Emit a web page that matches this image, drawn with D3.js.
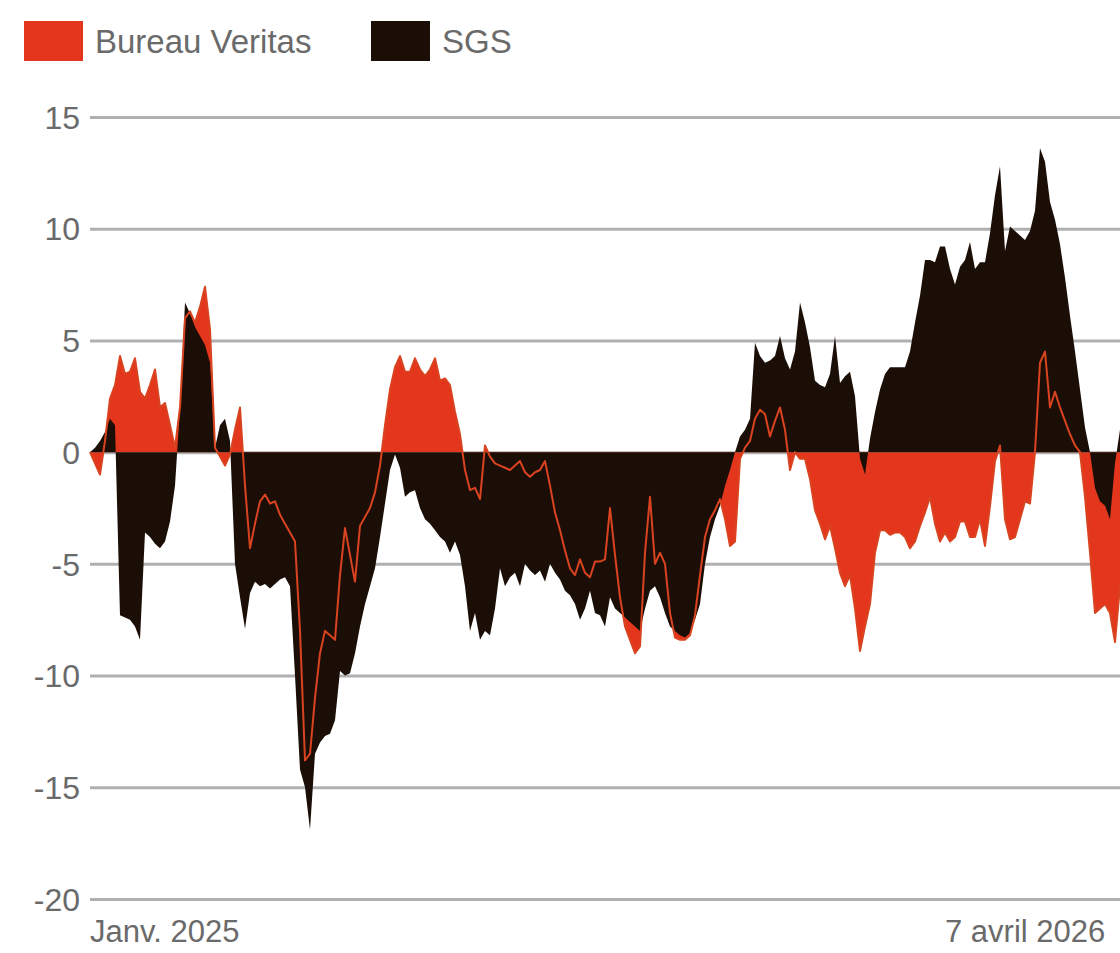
<!DOCTYPE html>
<html>
<head>
<meta charset="utf-8">
<script src="https://cdn.jsdelivr.net/npm/d3@7"></script>
<style>
  html, body { margin: 0; padding: 0; background: #fff; overflow: hidden; }
  svg { display: block; }
</style>
</head>
<body>
<svg id="chart" width="1120" height="953"></svg>
<script>
const seriesNames = ["Bureau Veritas", "SGS"];
const seriesColors = ["#e3361c", "#1b0e07"];
const yTicks = [15, 10, 5, 0, -5, -10, -15, -20];
const xTickLabels = ["Janv. 2025", "7 avril 2026"];

const sgsValues = [
  0, 0.2, 0.5, 0.9, 1.5, 1.2, -7.3, -7.4, -7.5, -7.8,
  -8.4, -3.6, -3.8, -4.1, -4.3, -4.0, -3.1, -1.5, 2.0, 6.7,
  6.2, 5.6, 5.2, 4.8, 4.0, 0.2, 1.2, 1.5, 0.5, -5.0,
  -6.5, -7.9, -6.3, -5.8, -6.0, -5.9, -6.1, -5.9, -5.7, -5.6,
  -6.0, -10.0, -14.2, -15.0, -16.9, -13.5, -13.0, -12.7, -12.6, -12.0,
  -9.8, -10.0, -9.9, -9.0, -7.8, -6.8, -6.0, -5.2, -3.8, -2.3,
  -0.8, -0.1, -0.7, -2.0, -1.8, -1.7, -2.5, -3.0, -3.2, -3.5,
  -3.8, -4.0, -4.5, -4.0, -4.6, -6.0, -8.0, -7.2, -8.4, -8.0,
  -8.2, -7.0, -5.2, -6.0, -5.6, -5.4, -6.0, -5.0, -5.3, -5.5,
  -5.3, -5.8, -5.0, -5.4, -5.7, -6.2, -6.4, -6.8, -7.5, -7.0,
  -6.2, -7.2, -7.3, -7.8, -6.5, -7.0, -7.2, -7.4, -7.6, -7.8,
  -8.0, -7.0, -6.2, -6.0, -6.5, -7.2, -7.8, -8.0, -8.2, -8.3,
  -8.1, -7.5, -6.8, -5.0, -3.8, -3.0, -2.4, -1.5, -0.8, 0,
  0.7, 1.0, 1.5, 4.9, 4.3, 4.0, 4.1, 4.3, 5.2, 4.2,
  3.7, 4.5, 6.7, 5.8, 4.7, 3.2, 3.0, 2.9, 3.5, 5.2,
  3.1, 3.4, 3.6, 2.5, -0.3, -1.0, 0.6, 1.8, 2.8, 3.5,
  3.8, 3.8, 3.8, 3.8, 4.5, 5.8, 7.0, 8.6, 8.6, 8.5,
  9.2, 9.2, 8.2, 7.5, 8.3, 8.6, 9.4, 8.2, 8.5, 8.5,
  9.8, 11.5, 12.8, 9.0, 10.1, 9.9, 9.7, 9.5, 9.9, 10.8,
  13.6, 13.0, 11.2, 10.4, 9.3, 7.8, 6.1, 4.5, 2.8, 1.1,
  0, -1.6, -2.2, -2.4, -3.0, -0.5, 1.0, 0.5, -0.5, -1.0
];

const bvValues = [
  0, -0.5, -1.0, 0.5, 2.4, 3.0, 4.3, 3.5, 3.6, 4.2,
  2.7, 2.4, 3.0, 3.7, 2.0, 2.2, 1.2, 0.2, 2.0, 6.0,
  6.3, 5.8, 6.5, 7.4, 5.5, 0.2, -0.2, -0.6, -0.1, 1.0,
  2.0, -1.5, -4.3, -3.2, -2.2, -1.9, -2.3, -2.2, -2.8, -3.2,
  -3.6, -4.0, -8.0, -13.8, -13.5, -11.0, -9.0, -8.0, -8.2, -8.4,
  -5.5, -3.4, -4.6, -5.8, -3.3, -2.9, -2.5, -1.8, -0.6, 1.2,
  2.8, 3.8, 4.3, 3.6, 3.6, 4.2, 3.7, 3.4, 3.7, 4.2,
  3.2, 3.3, 3.0, 1.8, 0.8, -0.8, -1.7, -1.6, -2.1, 0.3,
  -0.2, -0.5, -0.6, -0.7, -0.8, -0.6, -0.4, -0.9, -1.1, -0.9,
  -0.8, -0.4, -1.5, -2.7, -3.5, -4.4, -5.2, -5.5, -4.8, -5.4,
  -5.6, -4.9, -4.9, -4.8, -2.5, -4.6, -6.5, -7.8, -8.4, -9.0,
  -8.7, -4.5, -2.0, -5.0, -4.5, -5.0, -7.2, -8.3, -8.4, -8.4,
  -8.2, -7.3, -5.5, -3.8, -3.0, -2.6, -2.1, -3.0, -4.2, -4.0,
  -0.3, 0.2, 0.5, 1.5, 1.9, 1.7, 0.7, 1.4, 2.0, 1.0,
  -0.8, 0.0, -0.3, -0.3, -1.2, -2.6, -3.2, -3.9, -3.3, -4.3,
  -5.4, -6.0, -5.5, -7.0, -8.9, -7.8, -6.8, -4.5, -3.5, -3.5,
  -3.7, -3.6, -3.6, -3.8, -4.3, -4.0, -3.3, -2.7, -2.0, -3.2,
  -4.0, -3.6, -4.0, -3.8, -3.1, -3.1, -3.8, -3.8, -3.0, -4.2,
  -2.4, -0.4, 0.3, -3.0, -3.9, -3.8, -3.0, -2.2, -2.3, 0.0,
  4.0, 4.5, 2.0, 2.7, 2.0, 1.4, 0.8, 0.3, 0.0, -2.0,
  -4.5, -7.2, -7.0, -6.8, -7.2, -8.5, -6.0, -6.2, -6.4, -6.2
];

const svg = d3.select("#chart");
const W = 1120, H = 953;
const plotLeft = 90, plotRight = 1135;
const fontFamily = "'Liberation Sans', Arial, sans-serif";
const textColor = "#6a6a6a";

const x = d3.scaleLinear().domain([0, sgsValues.length - 1]).range([plotLeft, plotRight]);
const y = d3.scaleLinear().domain([-20, 15]).range([899, 117]);

// gridlines + y labels
const yAxis = d3.axisLeft(y).tickValues(yTicks).tickSize(0).tickPadding(0).tickFormat(d => String(d));
const gy = svg.append("g").attr("transform", `translate(${plotLeft},0)`).call(yAxis);
gy.select(".domain").remove();
gy.selectAll(".tick line").remove();
gy.selectAll(".tick").append("line")
  .attr("x1", 0).attr("x2", W + 100)
  .attr("stroke", "#b0b0b0").attr("stroke-width", 3);
gy.selectAll(".tick text")
  .attr("x", -10).attr("dy", "0.35em")
  .attr("font-family", fontFamily).attr("font-size", 32)
  .attr("fill", textColor).attr("text-anchor", "end");

// areas
const areaFor = vals => d3.area().x((d, i) => x(i)).y0(y(0)).y1(d => y(d)).curve(d3.curveLinear)(vals);
svg.append("path").attr("d", areaFor(bvValues)).attr("fill", seriesColors[0]);
svg.append("path").attr("d", areaFor(sgsValues)).attr("fill", seriesColors[1]);
// BV line on top
svg.append("path")
  .attr("d", d3.line().x((d, i) => x(i)).y(d => y(d))(bvValues))
  .attr("fill", "none").attr("stroke", "#d9431f").attr("stroke-width", 2)
  .attr("stroke-linejoin", "round");

// x labels
svg.append("text").attr("x", plotLeft).attr("y", 942)
  .attr("font-family", fontFamily).attr("font-size", 31).attr("fill", textColor)
  .attr("text-anchor", "start").text(xTickLabels[0]);
svg.append("text").attr("x", 945).attr("y", 942)
  .attr("font-family", fontFamily).attr("font-size", 31).attr("fill", textColor)
  .attr("text-anchor", "start").text(xTickLabels[1]);

// legend
const legendX = [24, 371];
seriesNames.forEach((name, i) => {
  svg.append("rect").attr("x", legendX[i]).attr("y", 21).attr("width", 59).attr("height", 40)
    .attr("fill", seriesColors[i]);
  svg.append("text").attr("x", legendX[i] + 71).attr("y", 53)
    .attr("font-family", fontFamily).attr("font-size", 33).attr("fill", textColor)
    .text(name);
});
</script>
</body>
</html>
